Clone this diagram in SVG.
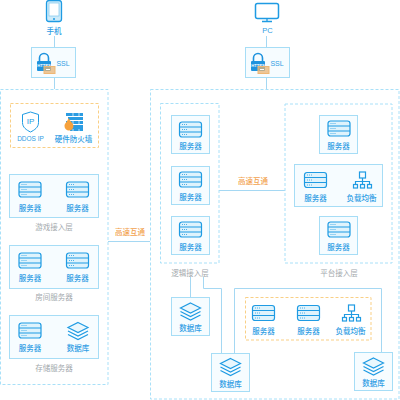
<svg xmlns="http://www.w3.org/2000/svg" width="400" height="400" viewBox="0 0 400 400">
<style>
text{font-family:"Noto Sans CJK SC","Liberation Sans",sans-serif;font-size:7.5px;text-anchor:middle;dominant-baseline:central}
.b{fill:#2f9de4;font-weight:500}.g{fill:#a3a9ad}.o{fill:#f2a24e;font-weight:500}
.box{fill:#f6fcff;stroke:#a6ddf6;stroke-width:1}
.dash{fill:#fff;stroke:#a9e0f8;stroke-width:1;stroke-dasharray:3 2}
.ydash{fill:#fff;stroke:#f9cf85;stroke-width:1;stroke-dasharray:3 2}
.ln{fill:none;stroke:#a5d8f3;stroke-width:1}
.ic{fill:none;stroke:#1f9be3;stroke-width:1.200}
</style>
<defs>
<g id="srv"><rect x="0.500" y="0.500" width="22" height="15" rx="2.500" fill="#dff3fc" stroke="#1f9be3" stroke-width="1.200"/><path d="M0.500 5.500H22.500M0.500 10.500H22.500" stroke="#1f9be3" stroke-width="1.200" fill="none"/><path d="M3 3H8M3 8H8M3 13H8" stroke="#4fb0e8" stroke-dasharray="1 1" fill="none"/></g>
<g id="db" class="ic"><path d="M11 0.500L21 5.500L11 10.500L1 5.500Z" fill="#eaf7fd"/><path d="M1 9L11 14L21 9M1 12.500L11 17.500L21 12.500"/></g>
<g id="lb" class="ic"><rect x="6.500" y="0.500" width="6" height="6"/><path d="M9.500 6.500V10M2.500 13V10H16.500V13M9.500 10V13"/><rect x="0.500" y="13" width="4" height="3.500"/><rect x="7.500" y="13" width="4" height="3.500"/><rect x="14.500" y="13" width="4" height="3.500"/></g>
<g id="lock"><path d="M4.500 9V6a4.500 4.500 0 0 1 9 0V9" fill="none" stroke="#1f93de" stroke-width="1.600"/><rect x="2" y="9" width="14" height="10" fill="#1f93de" rx="1"/><text x="9" y="13.500" style="font-family:'Liberation Sans',sans-serif;font-size:4.200px;font-weight:bold" fill="#fff">HTTPS</text><rect x="9" y="14.500" width="11" height="7" fill="#e8b476" fill-opacity=".75" stroke="#efb774"/><path d="M11 17.500H15" stroke="#fff"/></g>
</defs>

<g id="connectors">
<path class="ln" d="M54.500 36V47M54.500 78V89M266.500 36V47M266.500 78V89"/>
<path class="ln" d="M108 241.500H150M219 190.500H285"/>
<path class="ln" d="M190.500 277V297M203.500 277V288.500H221.500V353M234.500 353V288.500H381.500V352"/>
</g>

<g id="phone"><rect x="46.500" y="0.500" width="15" height="21" rx="2.500" fill="#cdeBfa" stroke="#1f9be3" stroke-width="1.300"/><rect x="49" y="3" width="10" height="13" fill="#fff" stroke="#7cc7ee" stroke-width=".7"/><circle cx="54" cy="19" r="1" fill="#1f9be3"/><text class="b" x="54" y="30">手机</text></g>
<g id="pc"><rect x="255.500" y="3.500" width="23" height="15" rx="2" fill="#fff" stroke="#1f9be3" stroke-width="1.500"/><path d="M267 18.500V21M262 21.500H272" stroke="#1f9be3" stroke-width="1.300"/><text class="b" x="267.500" y="30" style="font-family:'Liberation Sans',sans-serif">PC</text></g>
<g id="ssl1"><rect class="box" x="31.500" y="47.500" width="44" height="30"/><use href="#lock" x="35" y="52"/><text class="b" x="63" y="63" style="font-family:'Liberation Sans',sans-serif;font-size:7px">SSL</text></g>
<g id="ssl2"><rect class="box" x="245.500" y="47.500" width="44" height="30"/><use href="#lock" x="249" y="52"/><text class="b" x="277" y="63" style="font-family:'Liberation Sans',sans-serif;font-size:7px">SSL</text></g>

<g id="left-zone"><rect class="dash" x="0.500" y="89.500" width="107.500" height="295"/></g>
<g id="security">
<rect class="ydash" x="10.500" y="103.500" width="88" height="44"/>
<path d="M30.500 112l-8 2.500v8c0 5 4 7.500 8 9.500 4-2 8-4.500 8-9.500v-8z" fill="#fff" stroke="#1f9be3"/><text x="30.500" y="121.500" style="font-family:'Liberation Sans',sans-serif;font-size:8px" fill="#1f9be3">IP</text>
<text class="b" x="30.500" y="138" style="font-family:'Liberation Sans',sans-serif;font-size:6.500px">DDOS IP</text>
<path d="M66 114.500H83M68 118.500H83M66 122.500H83M70 126.500H83M70 129.500H83" stroke="#2b9ce2" stroke-width="3"/><path d="M73 113V131M79 113V131" stroke="#fff" stroke-width=".7" stroke-dasharray="4 4"/><path d="M68.500 118c1 3 5 5 5 8a4.500 4.500 0 0 1-9 0c0-3 3-4 4-8z" fill="#f6a13c"/>
<text class="b" x="73.500" y="138.500">硬件防火墙</text>
</g>
<g id="game"><rect class="box" x="9.500" y="174.500" width="89" height="43"/><use href="#srv" x="18.500" y="181.500"/><use href="#srv" x="66" y="181.500"/><text class="b" x="30" y="207">服务器</text><text class="b" x="77.500" y="207">服务器</text><text class="g" x="54" y="226">游戏接入层</text></g>
<g id="room"><rect class="box" x="9.500" y="245.500" width="89" height="43"/><use href="#srv" x="18.500" y="252.500"/><use href="#srv" x="66" y="252.500"/><text class="b" x="30" y="277">服务器</text><text class="b" x="77.500" y="277">服务器</text><text class="g" x="54" y="296.500">房间服务器</text></g>
<g id="storage"><rect class="box" x="9.500" y="315.500" width="89" height="43"/><use href="#srv" x="18.500" y="322.500"/><use href="#db" x="67" y="322"/><text class="b" x="30" y="347">服务器</text><text class="b" x="78" y="347">数据库</text><text class="g" x="54" y="367">存储服务器</text></g>

<g id="right-zone"><rect x="150.500" y="89.500" width="248.500" height="309.500" fill="none" stroke="#a9e0f8" stroke-dasharray="3 2"/></g>
<g id="logic-zone"><rect class="dash" x="160.500" y="103.500" width="58.500" height="159.500"/><text class="g" x="190" y="272">逻辑接入层</text></g>
<g id="platform-zone"><rect class="dash" x="285" y="104" width="107" height="159"/><text class="g" x="339" y="272">平台接入层</text></g>

<g id="logic1"><rect class="box" x="171.500" y="115.500" width="38" height="38"/><use href="#srv" x="179" y="121.500"/><text class="b" x="190.500" y="145.500">服务器</text></g>
<g id="logic2"><rect class="box" x="171.500" y="166.500" width="38" height="38"/><use href="#srv" x="179" y="171.500"/><text class="b" x="190.500" y="196">服务器</text></g>
<g id="logic3"><rect class="box" x="171.500" y="216.500" width="38" height="38"/><use href="#srv" x="179" y="221.500"/><text class="b" x="190.500" y="246.500">服务器</text></g>

<g id="plat1"><rect class="box" x="319.500" y="115.500" width="38" height="38"/><use href="#srv" x="327.500" y="120.500"/><text class="b" x="338.500" y="145">服务器</text></g>
<g id="plat2"><rect class="box" x="294.500" y="164.500" width="88" height="42"/><use href="#srv" x="304" y="172"/><text class="b" x="315.500" y="197">服务器</text><use href="#lb" x="353" y="171.500"/><text class="b" x="361.500" y="197">负载均衡</text></g>
<g id="plat3"><rect class="box" x="319.500" y="216.500" width="38" height="38"/><use href="#srv" x="327.500" y="221.500"/><text class="b" x="338.500" y="246.500">服务器</text></g>

<g id="db1"><rect class="box" x="171.500" y="297.500" width="38" height="38"/><use href="#db" x="179.500" y="302.500"/><text class="b" x="190.500" y="327">数据库</text></g>
<g id="db2"><rect class="box" x="211.500" y="353.500" width="38" height="38"/><use href="#db" x="219.500" y="358"/><text class="b" x="230.500" y="383">数据库</text></g>
<g id="db3"><rect class="box" x="354.500" y="352.500" width="38" height="38"/><use href="#db" x="362.500" y="357.500"/><text class="b" x="373.500" y="382.500">数据库</text></g>

<g id="cluster"><rect class="ydash" x="245.500" y="297.500" width="125.500" height="42.500"/><use href="#srv" x="252" y="305"/><text class="b" x="263.500" y="330">服务器</text><use href="#srv" x="297" y="305"/><text class="b" x="308.500" y="330">服务器</text><use href="#lb" x="342" y="304.500"/><text class="b" x="350.500" y="330">负载均衡</text></g>

<g id="labels"><text class="o" x="130" y="231">高速互通</text><text class="o" x="253" y="180.500">高速互通</text></g>
</svg>
